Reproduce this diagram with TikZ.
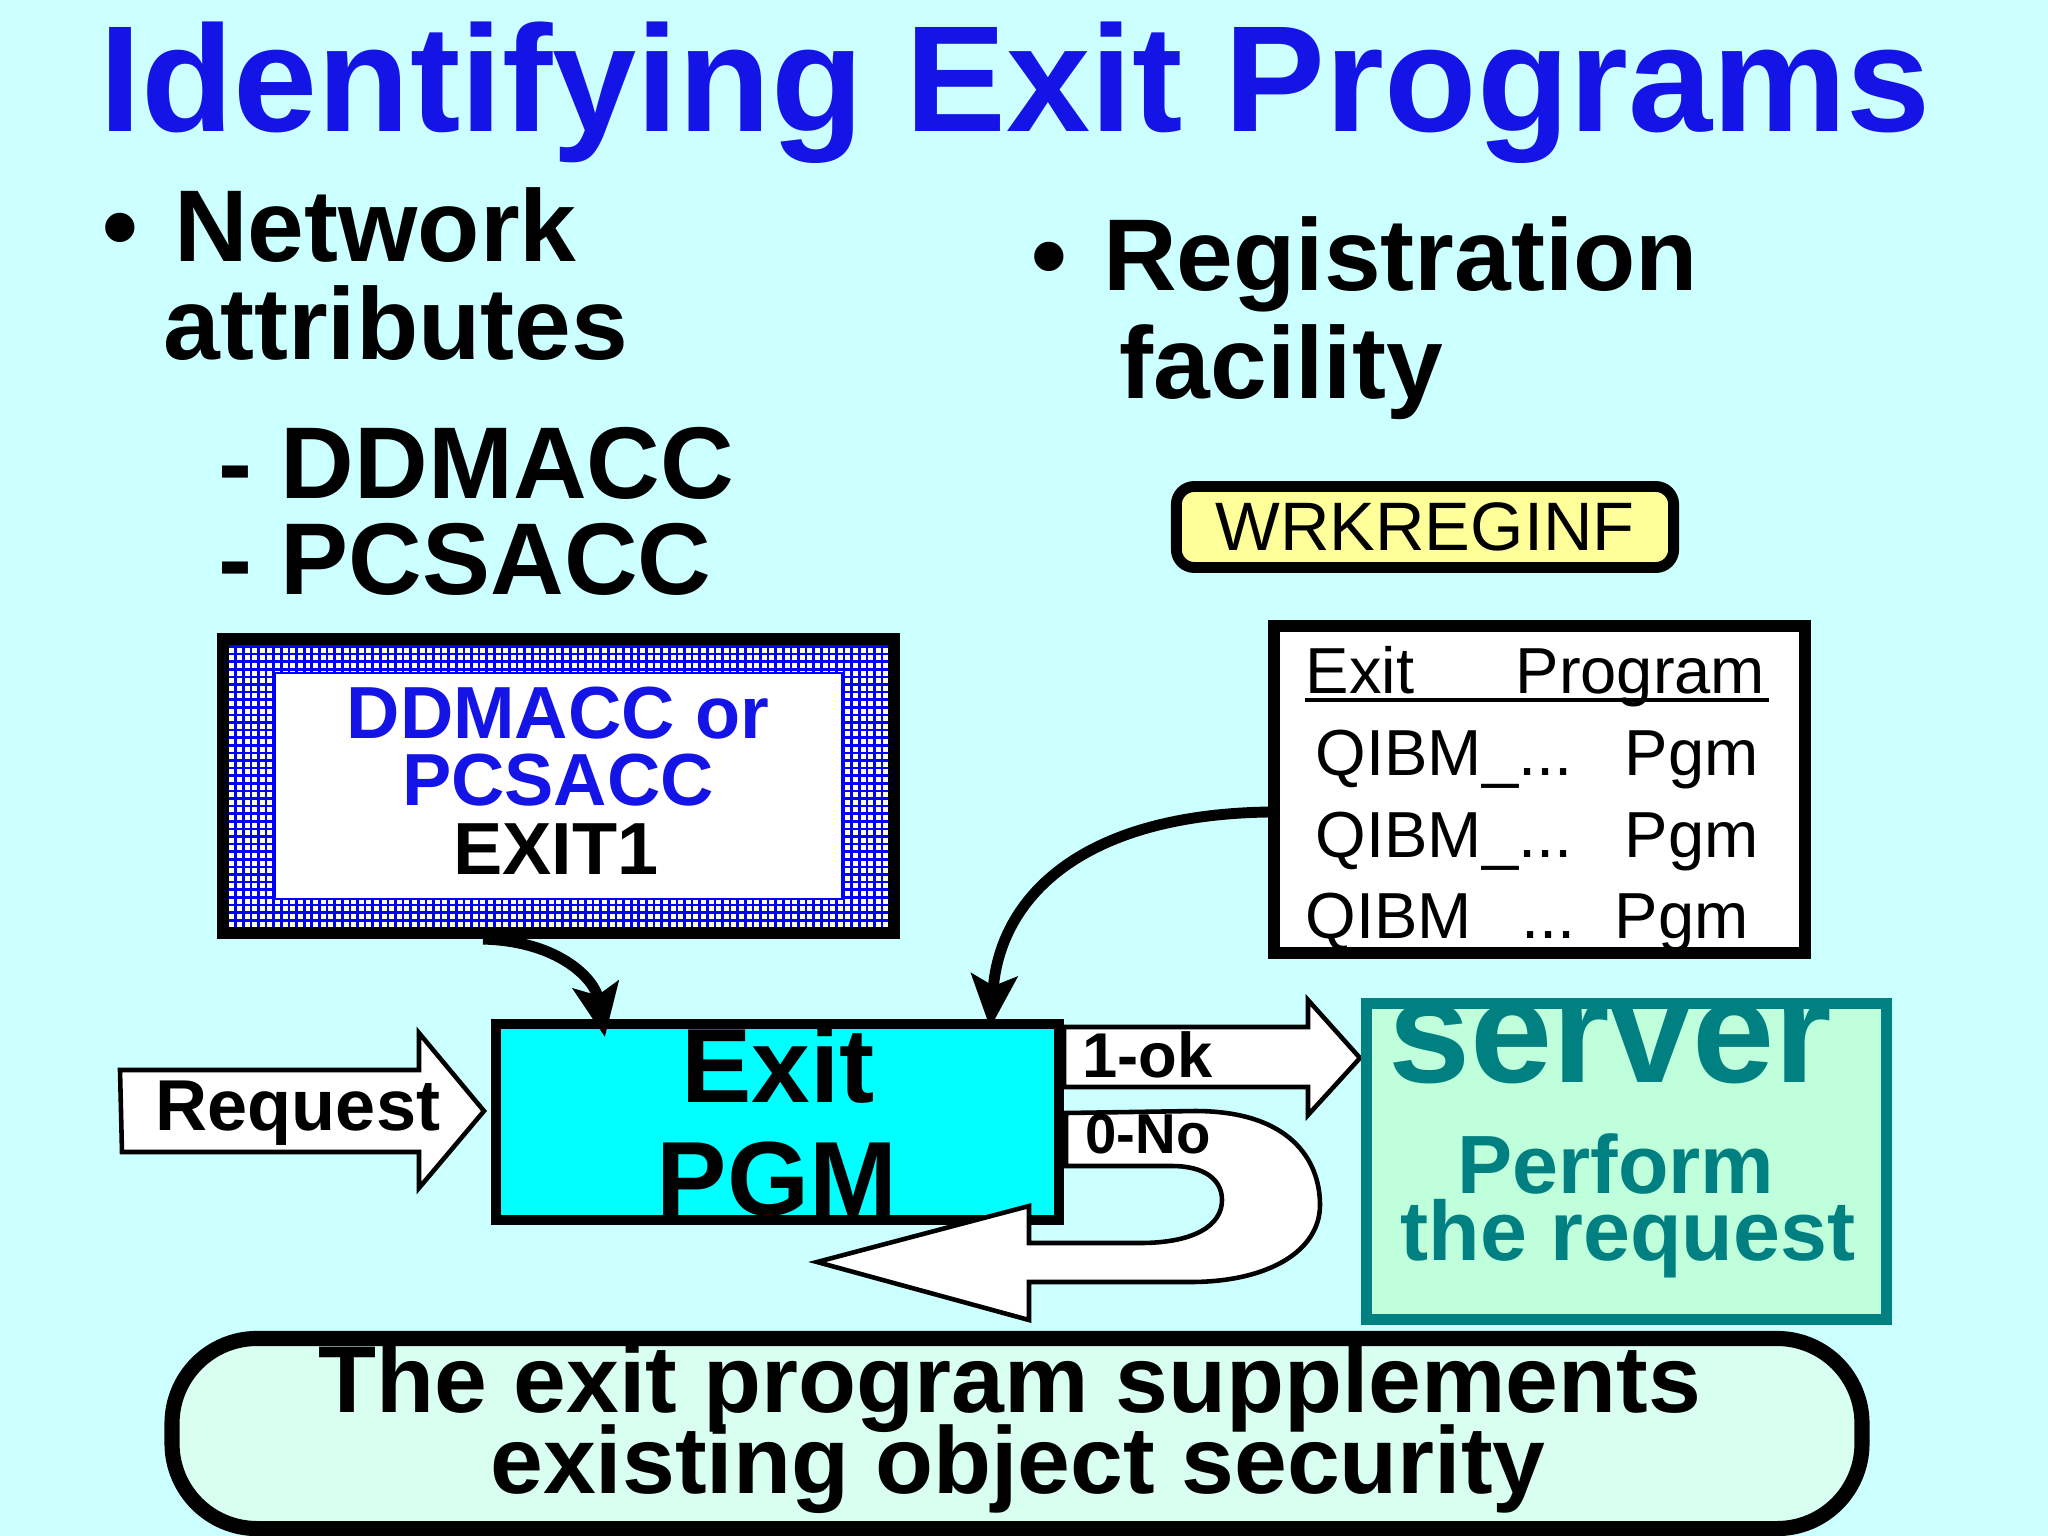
\documentclass[tikz,border=0pt]{standalone}
\usepackage{fontspec}
\setmainfont{Liberation Sans}
\usetikzlibrary{arrows.meta}

\definecolor{bgcyan}{RGB}{204,255,255}
\definecolor{ttlblue}{RGB}{20,20,230}
\definecolor{pgmcyan}{RGB}{0,255,255}
\definecolor{srvteal}{RGB}{0,128,128}
\definecolor{srvfill}{RGB}{192,255,220}
\definecolor{notefill}{RGB}{216,255,240}
\definecolor{cmdyellow}{RGB}{255,255,153}
\definecolor{gridcream}{RGB}{255,255,220}

\newcommand{\fsz}[1]{\fontsize{#1}{#1}\selectfont}

\begin{document}
\begin{tikzpicture}[x=0.01cm, y=-0.01cm,
    txt/.style={anchor=base west, inner sep=0pt},
    ctxt/.style={anchor=base, inner sep=0pt},
    bullet/.style={txt, font=\fsz{29}\bfseries},
    tabtxt/.style={txt, font=\fsz{18.5}},
    blockarrow/.style={draw=black, fill=white, line width=1.3pt, line join=miter},
    curvearrow/.style={-{Stealth[length=15pt, width=13pt, inset=3pt]}, line width=3.1pt}]
    \fill[bgcyan] (0,0) rectangle (2048,1536);
    \useasboundingbox (0,0) rectangle (2048,1536);

    \node[ctxt, font=\fsz{43}\bfseries, text=ttlblue] (title) at (1015,131) {Identifying Exit Programs};

    % left column
    \node[bullet] (net) at (102,261) {\textbullet\hspace{0.35em}Network};
    \node[bullet] (attr) at (163,359) {attributes};
    \node[bullet] (ddm) at (218,498) {- DDMACC};
    \node[bullet] (pcs) at (218,594) {- PCSACC};

    % right column
    \node[bullet] (reg) at (1031,290) {\textbullet\hspace{0.35em}Registration};
    \node[bullet] (fac) at (1119,398) {facility};
    \node[draw, line width=3.1pt, rounded corners=0.18cm, fill=cmdyellow, minimum width=4.97cm, minimum height=0.81cm, inner sep=0pt, font=\fsz{19.5}] (wrk) at (1425,527) {WRKREGINF};

    % network attribute box
    \fill[gridcream] (229,645) rectangle (888,927);
    \draw[blue, line width=0.75pt, step=0.076cm] (229,645) grid (888,927);
    \draw[blue, line width=0.6pt, fill=white] (275,673) rectangle (842,899);
    \node[draw, line width=3.4pt, minimum width=6.71cm, minimum height=2.94cm, inner sep=0pt] (ddbox) at (558.5,786) {};
    \node[ctxt, font=\fsz{21}\bfseries, text=ttlblue] (ddor) at (558,738) {DDMACC or};
    \node[ctxt, font=\fsz{21}\bfseries, text=ttlblue] (pcor) at (558,805) {PCSACC};
    \node[ctxt, font=\fsz{21}\bfseries] (ex1) at (556,874) {EXIT1};

    % registration table
    \fill[white] (1274,626) rectangle (1805,953);
    \node[tabtxt] (hexit) at (1305,693) {Exit};
    \node[tabtxt] (hpgm) at (1515,693) {Program};
    \draw[line width=0.9pt] ([yshift=-2pt]hexit.base west) -- ([yshift=-2pt,xshift=1pt]hpgm.base east);
    \foreach \y/\n in {775/1,857/2} {
        \node[tabtxt] (q\n) at (1315,\y) {QIBM\_...};
        \node[tabtxt] (p\n) at (1624,\y) {Pgm};
    }
    \node[tabtxt] (q3) at (1305,938) {QIBM};
    \node[tabtxt] (d3) at (1521,938) {...};
    \node[tabtxt] (p3) at (1614,938) {Pgm};
    \node[draw, line width=3.4pt, minimum width=5.31cm, minimum height=3.27cm, inner sep=0pt] (tbl) at (1539.5,789.5) {};

    % exit program
    \node[draw, line width=2.8pt, fill=pgmcyan, minimum width=5.63cm, minimum height=1.96cm, inner sep=0pt] (pgm) at (777.5,1122) {};
    \node[ctxt, font=\fsz{30}\bfseries] (pgm1) at (778,1102) {Exit};
    \node[ctxt, font=\fsz{30}\bfseries] (pgm2) at (777,1215) {PGM};

    % request in, results out
    \draw[blockarrow] (120,1070) -- (419,1070) -- (419,1033) -- (484,1111) -- (419,1188) -- (419,1152) -- (122,1152) -- cycle;
    \node[txt, font=\fsz{20.5}\bfseries] (req) at (155,1130) {Request};
    \draw[blockarrow] (1064,1027) -- (1308,1027) -- (1308,1000) -- (1360,1058) -- (1308,1115) -- (1308,1087) -- (1064,1087) -- cycle;
    \node[txt, font=\fsz{18}\bfseries] (ok) at (1082,1077) {1-ok};
    \draw[blockarrow] (1066,1113) -- (1195,1111) .. controls (1290,1111) and (1320,1160) .. (1320,1205)
        .. controls (1320,1250) and (1270,1282) .. (1190,1282) -- (1029,1282) -- (1029,1320) -- (817,1262)
        -- (1029,1206) -- (1029,1243) -- (1140,1243) .. controls (1195,1243) and (1222,1225) .. (1222,1200)
        .. controls (1222,1180) and (1205,1166) .. (1172,1166) -- (1066,1166) -- cycle;
    \node[txt, font=\fsz{16}\bfseries] (no) at (1085,1153) {0-No};

    % server
    \node[draw=srvteal, line width=3.1pt, fill=srvfill, minimum width=5.2cm, minimum height=3.16cm, inner sep=0pt] (srv) at (1626.5,1161.5) {};
    \begin{scope}
        \clip (1372,1009) rectangle (1881,1314);
        \node[ctxt, font=\fsz{42}\bfseries, text=srvteal] (srvt) at (1610,1082) {server};
    \end{scope}
    \node[ctxt, font=\fsz{23.5}\bfseries, text=srvteal] (perf) at (1616,1193) {Perform};
    \node[ctxt, font=\fsz{24}\bfseries, text=srvteal] (treq) at (1628,1260) {the request};

    % curved connectors
    \draw[curvearrow] ([xshift=-0.755cm]ddbox.south) .. controls +(77,2) and +(-10,-57) .. ([xshift=-1.725cm,yshift=-0.18cm]pgm.north);
    \draw[curvearrow] ([yshift=-0.225cm]tbl.west) .. controls +(-190,3) and +(10,-128) .. ([xshift=2.125cm,yshift=-0.09cm]pgm.north);

    % bottom note
    \node[draw, line width=4.3pt, rounded corners=0.85cm, fill=notefill, minimum width=16.89cm, minimum height=1.9cm, inner sep=0pt] (note) at (1017,1433.5) {};
    \node[ctxt, font=\fsz{27}\bfseries] (note1) at (1010,1412) {The exit program supplements};
    \node[ctxt, font=\fsz{27}\bfseries] (note2) at (1018,1493) {existing object security};
\end{tikzpicture}
\end{document}
